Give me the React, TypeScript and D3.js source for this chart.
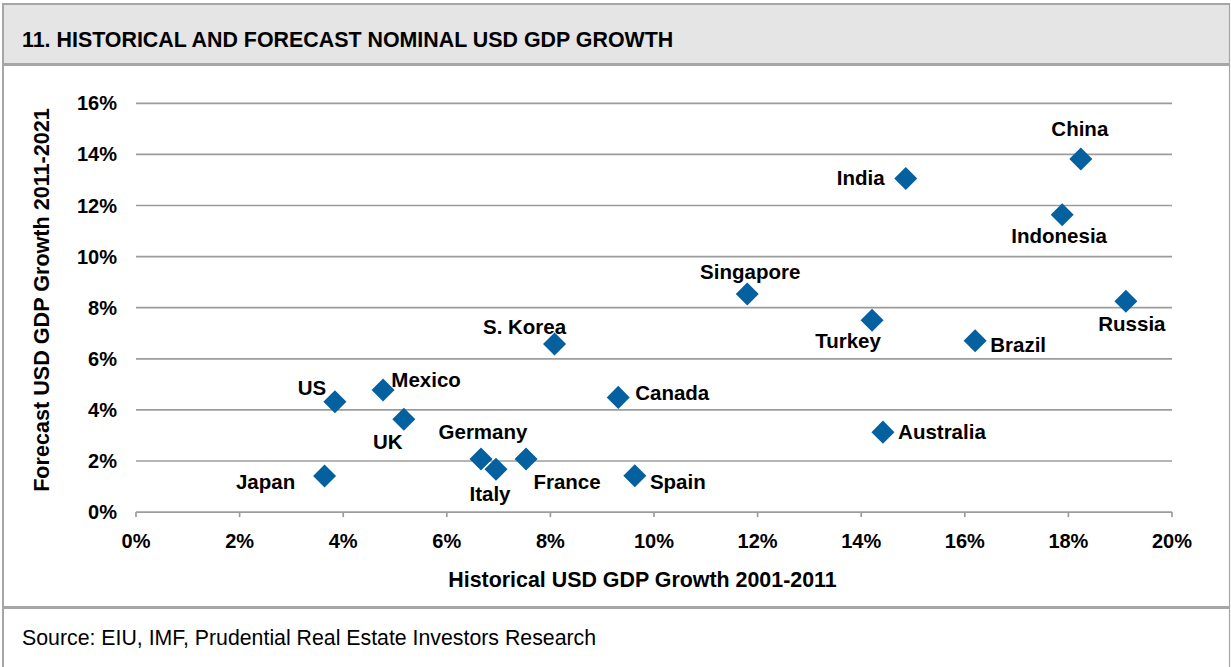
import React from "react";
import * as d3 from "d3";

const countries = ["Japan", "US", "Mexico", "UK", "Germany", "Italy", "France", "S. Korea", "Canada", "Spain", "Singapore", "Turkey", "Australia", "India", "Brazil", "Indonesia", "China", "Russia"];
const historicalGrowth = [3.64, 3.84, 4.77, 5.17, 6.66, 6.95, 7.53, 8.08, 9.31, 9.63, 11.8, 14.21, 14.42, 14.86, 16.2, 17.88, 18.24, 19.11];
const forecastGrowth = [1.41, 4.32, 4.78, 3.63, 2.08, 1.68, 2.08, 6.58, 4.49, 1.42, 8.54, 7.51, 3.13, 13.06, 6.71, 11.64, 13.82, 8.25];
const xTicks = [0, 2, 4, 6, 8, 10, 12, 14, 16, 18, 20];
const yTicks = [0, 2, 4, 6, 8, 10, 12, 14, 16];

const title = "11. HISTORICAL AND FORECAST NOMINAL USD GDP GROWTH";
const xTitle = "Historical USD GDP Growth 2001-2011";
const yTitle = "Forecast USD GDP Growth 2011-2021";
const source = "Source: EIU, IMF, Prudential Real Estate Investors Research";

// label placement offsets (layout only)
const labelOffset: Record<string, [number, number]> = {
  Japan: [-59, 6],
  US: [-23, -14],
  Mexico: [43, -10],
  UK: [-16, 22],
  Germany: [2, -27],
  Italy: [-6, 25],
  France: [41, 23],
  "S. Korea": [-30, -17],
  Canada: [54, -5],
  Spain: [43, 6],
  Singapore: [3, -22],
  Turkey: [-24, 21],
  Australia: [59, 0],
  India: [-45, -1],
  Brazil: [43, 4],
  Indonesia: [-3, 21],
  China: [-1, -30],
  Russia: [6, 23],
};

const W = 1231;
const H = 667;
const plot = { left: 136, right: 1172, top: 103.3, bottom: 512.1 };
const font = "'Liberation Sans', Arial, sans-serif";
const border = "#a6a6a6";
const grid = "#9c9c9c";
const marker = "#05609f";

export default function App() {
  const x = d3.scaleLinear().domain([0, 20]).range([plot.left, plot.right]);
  const y = d3.scaleLinear().domain([0, 16]).range([plot.bottom, plot.top]);
  const diamond = d3.symbol().type(d3.symbolSquare).size(265)() as string;

  return (
    <svg width={W} height={H} style={{ position: "absolute", left: 0, top: 0, background: "#fff" }} fontFamily={font}>
      {/* header */}
      <rect x={3} y={4} width={1226.5} height={60} fill="#e5e5e5" />
      <line x1={2} x2={1230} y1={4} y2={4} stroke={border} strokeWidth={2} />
      <line x1={2} x2={1230} y1={64.5} y2={64.5} stroke={border} strokeWidth={3} />
      <line x1={2} x2={1230} y1={607.5} y2={607.5} stroke={border} strokeWidth={3} />
      <line x1={3} x2={3} y1={3} y2={H} stroke={border} strokeWidth={2} />
      <line x1={1229.5} x2={1229.5} y1={3} y2={H} stroke={border} strokeWidth={1.2} />
      <text x={22} y={47} fontSize={21.4} fontWeight="bold" fill="#000">{title}</text>

      {/* grid */}
      {yTicks.filter((t) => t > 0).map((t) => (
        <line key={"g" + t} x1={plot.left} x2={plot.right} y1={y(t)} y2={y(t)} stroke={grid} strokeWidth={1.7} />
      ))}
      {/* x axis */}
      <line x1={plot.left} x2={plot.right} y1={y(0)} y2={y(0)} stroke={grid} strokeWidth={1.7} />
      {xTicks.map((t) => (
        <line key={"xt" + t} x1={x(t)} x2={x(t)} y1={y(0)} y2={y(0) + 5} stroke={grid} strokeWidth={1.7} />
      ))}
      {xTicks.map((t) => (
        <text key={"xl" + t} x={x(t)} y={548} textAnchor="middle" fontSize={20} fontWeight="bold">{t + "%"}</text>
      ))}
      {yTicks.map((t) => (
        <text key={"yl" + t} x={117} y={y(t)} dy="0.35em" textAnchor="end" fontSize={20} fontWeight="bold">{t + "%"}</text>
      ))}
      <text x={642.5} y={587} textAnchor="middle" fontSize={21.4} fontWeight="bold">{xTitle}</text>
      <text transform={`translate(49,300) rotate(-90)`} textAnchor="middle" fontSize={21.6} fontWeight="bold">{yTitle}</text>

      {/* points */}
      {countries.map((c, i) => (
        <path key={"p" + c} d={diamond} transform={`translate(${x(historicalGrowth[i])},${y(forecastGrowth[i])}) rotate(45)`} fill={marker} />
      ))}
      {countries.map((c, i) => {
        const [dx, dy] = labelOffset[c];
        return (
          <text key={"t" + c} x={x(historicalGrowth[i]) + dx} y={y(forecastGrowth[i]) + dy} dy="0.35em" textAnchor="middle" fontSize={20.5} fontWeight="bold">{c}</text>
        );
      })}

      <text x={22} y={645} fontSize={21.3} fill="#000">{source}</text>
    </svg>
  );
}
